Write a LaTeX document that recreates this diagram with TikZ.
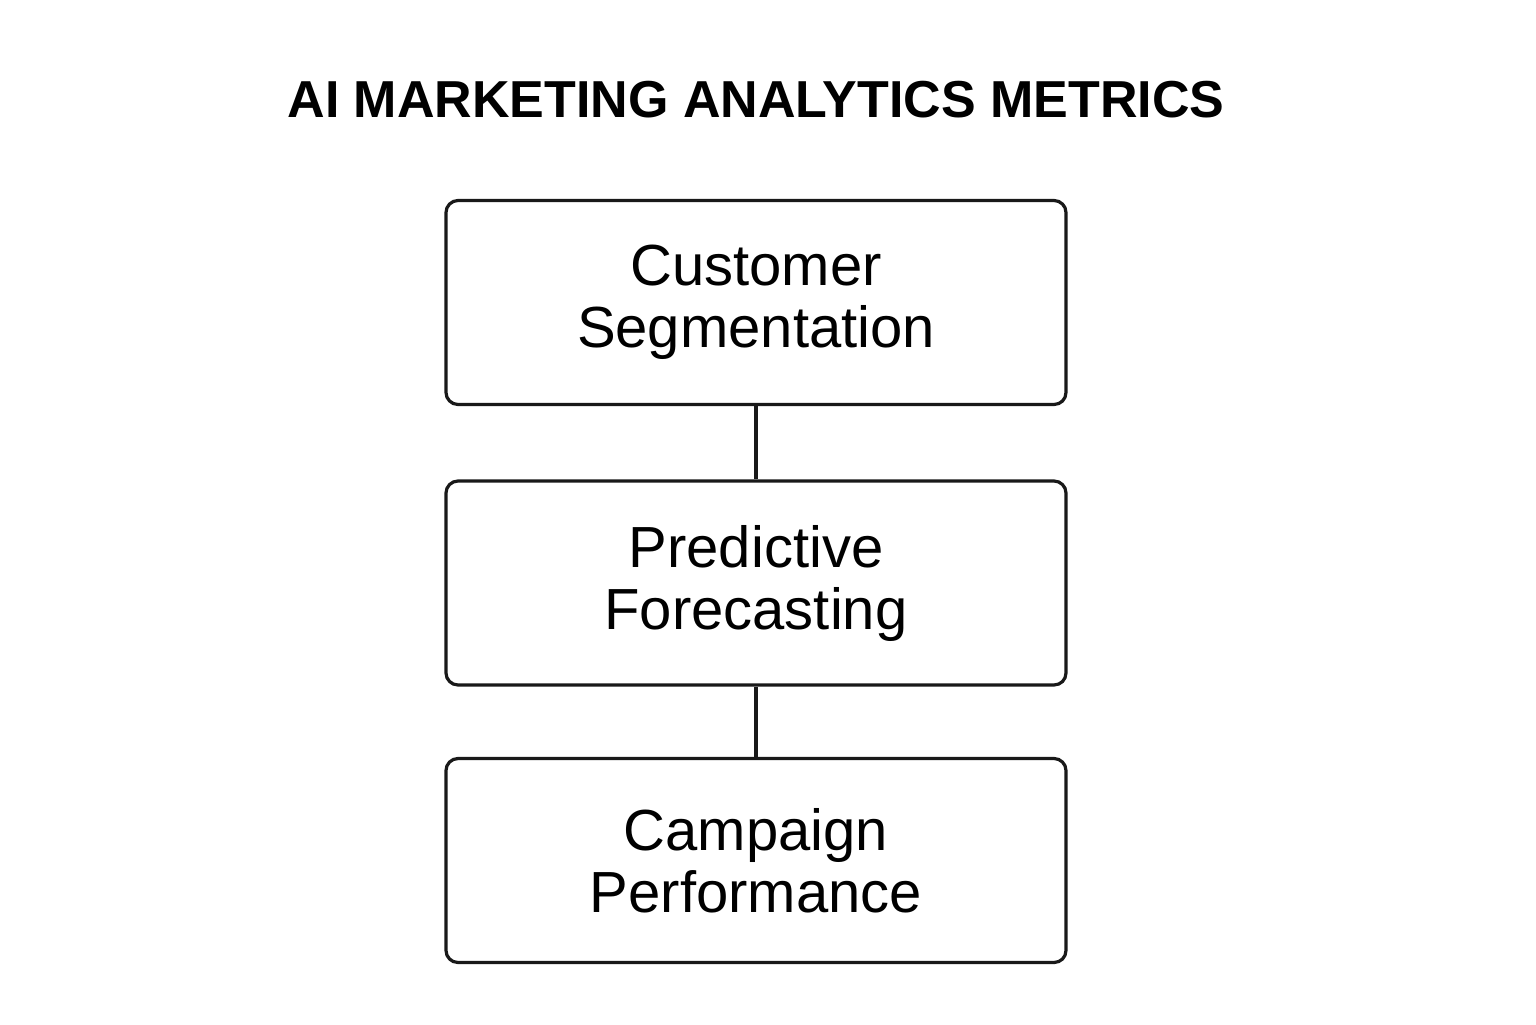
\documentclass[tikz,border=0pt]{standalone}
\usepackage{fontspec}
\setmainfont{Liberation Sans}
\begin{document}
\begin{tikzpicture}[x=0.5pt,y=-0.5pt,
  box/.style={draw=black!90,line width=1.6pt,rounded corners=6pt,minimum width=310pt,minimum height=102pt,align=center,font=\fontsize{29}{33}\selectfont,inner sep=0pt},
  link/.style={draw=black!90,line width=1.6pt}]
\useasboundingbox (0,0) rectangle (1536,1024);
\node[font=\bfseries\fontsize{26}{30}\selectfont] (title) at (756,100) {AI MARKETING ANALYTICS METRICS};
\node[box] (a) at (756,302.5) {Customer\\[-2pt]Segmentation};
\node[box] (b) at (756,583) {Predictive\\[-2pt]Forecasting};
\node[box] (c) at (756,860.5) {Campaign\\[-2pt]Performance};
\draw[link] (a) -- (b);
\draw[link] (b) -- (c);
\end{tikzpicture}
\end{document}
